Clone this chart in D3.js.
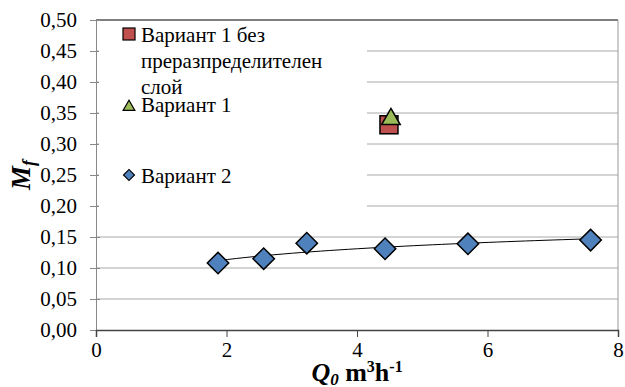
<html><head><meta charset="UTF-8"><script src="https://d3js.org/d3.v7.min.js"></script></head>
<body style="margin:0">
<svg width="625" height="387"></svg>
<script>
  // data
  const v2X = [1.87, 2.57, 3.23, 4.43, 5.70, 7.58];
  const v2Y = [0.108, 0.115, 0.140, 0.131, 0.139, 0.145];
  const v1X = [4.52];
  const v1Y = [0.340];
  const v1noX = [4.49];
  const v1noY = [0.331];
  const xTicks = [0, 2, 4, 6, 8];
  const yTicks = [0, 0.05, 0.10, 0.15, 0.20, 0.25, 0.30, 0.35, 0.40, 0.45, 0.50];

  const svg = d3.select("svg");
  const pLeft = 96, pRight = 618, pTop = 20, pBottom = 330;

  const x = d3.scaleLinear().domain([0, 8]).range([pLeft, pRight]);
  const y = d3.scaleLinear().domain([0, 0.5]).range([pBottom, pTop]);
  const fmt = v => d3.format(".2f")(v).replace(".", ",");

  // gridlines
  svg.append("g").selectAll("line")
    .data(yTicks.filter(t => t > 0))
    .enter().append("line")
    .attr("x1", pLeft).attr("x2", pRight)
    .attr("y1", d => y(d)).attr("y2", d => y(d))
    .attr("stroke", d => d === 0.5 ? "#000" : "#a8a8a8")
    .attr("stroke-width", 1);

  // right border
  svg.append("line")
    .attr("x1", pRight).attr("x2", pRight).attr("y1", pTop).attr("y2", pBottom)
    .attr("stroke", "#999");

  // y axis
  const yAxis = svg.append("g")
    .attr("transform", `translate(${pLeft},0)`)
    .call(d3.axisLeft(y).tickValues(yTicks).tickFormat(fmt).tickSize(6).tickPadding(13));
  yAxis.select(".domain").attr("stroke", "#888");
  yAxis.selectAll(".tick line").attr("stroke", "#888").attr("x2", 4).attr("x1", -6);
  yAxis.selectAll(".tick text").attr("fill", "#000");

  // x axis
  const xAxis = svg.append("g")
    .attr("transform", `translate(0,${pBottom})`)
    .call(d3.axisBottom(x).tickValues(xTicks).tickFormat(d3.format("d")).tickSize(7).tickPadding(5));
  xAxis.select(".domain").attr("stroke", "#444").attr("stroke-width", 1.5);
  xAxis.selectAll(".tick line").attr("stroke", "#444");
  xAxis.selectAll(".tick text").attr("fill", "#000");

  // logarithmic trendline fitted to Variant 2
  const lx = v2X.map(Math.log);
  const mx = d3.mean(lx), my = d3.mean(v2Y);
  const slope = d3.sum(lx, (d, i) => (d - mx) * (v2Y[i] - my)) / d3.sum(lx, d => (d - mx) ** 2);
  const icpt = my - slope * mx;
  const xs = d3.range(0, 41).map(i => v2X[0] + (v2X[v2X.length - 1] - v2X[0]) * i / 40);
  svg.append("path")
    .datum(xs)
    .attr("fill", "none").attr("stroke", "#000").attr("stroke-width", 1)
    .attr("d", d3.line().x(d => x(d)).y(d => y(icpt + slope * Math.log(d))));

  // legend box (white, covers gridlines)
  svg.append("rect")
    .attr("x", pLeft + 3).attr("y", pTop + 1).attr("width", 268).attr("height", 193)
    .attr("fill", "#fff");

  // series markers
  svg.append("g").selectAll("rect")
    .data(v1noX).enter().append("rect")
    .attr("x", d => x(d) - 9).attr("y", (d, i) => y(v1noY[i]) - 9)
    .attr("width", 18).attr("height", 18)
    .attr("fill", "#C0504D").attr("stroke", "#000").attr("stroke-width", 1.5);

  svg.append("g").selectAll("path")
    .data(v1X).enter().append("path")
    .attr("transform", (d, i) => `translate(${x(d)},${y(v1Y[i])})`)
    .attr("d", d3.symbol().type(d3.symbolTriangle).size(150)())
    .attr("fill", "#9BBB59").attr("stroke", "#000").attr("stroke-width", 1.5);

  svg.append("g").selectAll("path")
    .data(v2X).enter().append("path")
    .attr("transform", (d, i) => `translate(${x(d)},${y(v2Y[i])}) rotate(45)`)
    .attr("d", d3.symbol().type(d3.symbolSquare).size(230)())
    .attr("fill", "#4F81BD").attr("stroke", "#000").attr("stroke-width", 1.5);

  // legend entries
  const lg = svg.append("g");
  lg.append("rect").attr("x", 123).attr("y", 28).attr("width", 12).attr("height", 12)
    .attr("fill", "#C0504D").attr("stroke", "#000").attr("stroke-width", 1.2);
  const t1 = lg.append("text").attr("x", 141).attr("y", 42);
  t1.append("tspan").attr("x", 141).text("Вариант 1 без");
  t1.append("tspan").attr("x", 141).attr("dy", 26).text("преразпределителен");
  t1.append("tspan").attr("x", 141).attr("dy", 26).text("слой");

  lg.append("path").attr("transform", "translate(129,107)")
    .attr("d", d3.symbol().type(d3.symbolTriangle).size(60)())
    .attr("fill", "#9BBB59").attr("stroke", "#000").attr("stroke-width", 1.2);
  lg.append("text").attr("x", 141).attr("y", 112).text("Вариант 1");

  lg.append("path").attr("transform", "translate(129,175) rotate(45)")
    .attr("d", d3.symbol().type(d3.symbolSquare).size(60)())
    .attr("fill", "#4F81BD").attr("stroke", "#000").attr("stroke-width", 1.2);
  lg.append("text").attr("x", 141).attr("y", 183).text("Вариант 2");

  // axis titles
  const yt = svg.append("text")
    .attr("class", "title")
    .attr("transform", "translate(30,190) rotate(-90)")
    .attr("text-anchor", "start")
    .style("font-weight", "bold").style("font-style", "italic");
  yt.append("tspan").style("font-size", "27px").text("M");
  yt.append("tspan").attr("dy", 5).style("font-size", "18px").text("f");

  const xt = svg.append("text")
    .attr("class", "title")
    .attr("x", 357).attr("y", 381)
    .attr("text-anchor", "middle")
    .style("font-weight", "bold");
  xt.append("tspan").style("font-style", "italic").style("font-size", "26px").text("Q");
  xt.append("tspan").style("font-style", "italic").style("font-size", "17px").attr("dy", 4).text("0");
  xt.append("tspan").style("font-size", "26px").attr("dy", -4).text(" m");
  xt.append("tspan").style("font-size", "16px").attr("dy", -9).text("3");
  xt.append("tspan").style("font-size", "26px").attr("dy", 9).text("h");
  xt.append("tspan").style("font-size", "16px").attr("dy", -9).text("-1");

  // fonts set on every text element
  svg.selectAll("text").each(function () {
    const t = d3.select(this);
    t.style("font-family", "Liberation Serif");
    if (!t.classed("title")) t.style("font-size", "21px");
  });
</script></body></html>
